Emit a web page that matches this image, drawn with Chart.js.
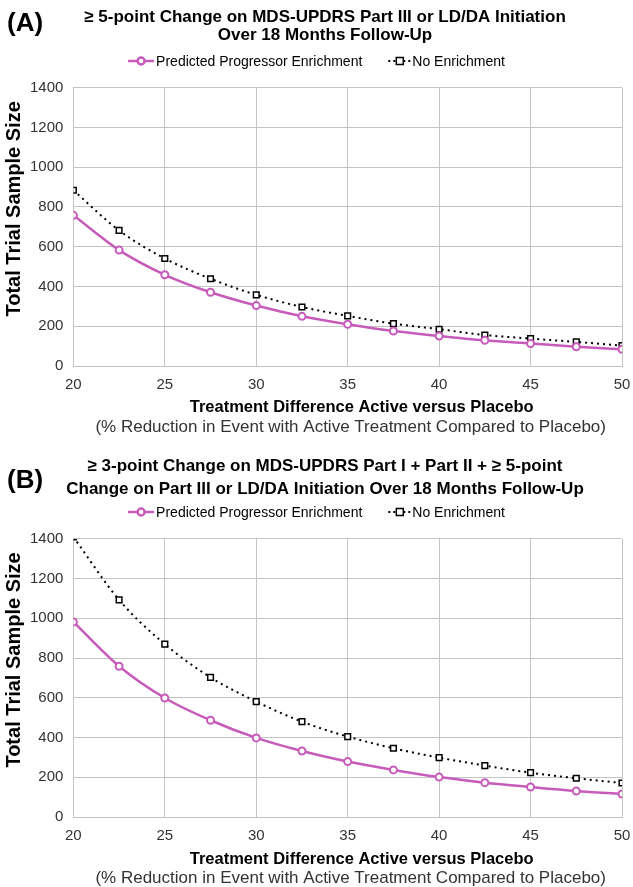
<!DOCTYPE html>
<html>
<head>
<meta charset="utf-8">
<script src="https://cdn.jsdelivr.net/npm/chart.js@4.4.1/dist/chart.umd.min.js"></script>
<style>
  body { margin: 0; background: #fff; }
  .panel { position: relative; width: 633px; }
  canvas { display: block; }
</style>
</head>
<body>
<div class="panel"><canvas id="chartA" width="633" height="440"></canvas></div>
<div class="panel"><canvas id="chartB" width="633" height="447"></canvas></div>

<script>
// ---- data ----
const treatmentDiff = [20, 22.5, 25, 27.5, 30, 32.5, 35, 37.5, 40, 42.5, 45, 47.5, 50];

const seriesNames = ['Predicted Progressor Enrichment', 'No Enrichment'];

// (A) >= 5-point change on Part III or LD/DA initiation
const enrichA = [758, 583, 459, 371, 304, 250, 210, 176, 151, 129, 113, 97, 84];
const noEnrichA = [884, 682, 541, 439, 358, 297, 252, 213, 185, 156, 138, 121, 103];

// (B) >= 3-point Part I + II + >= 5-point Part III or LD/DA initiation
const enrichB = [982, 759, 599, 487, 398, 332, 279, 237, 201, 173, 151, 131, 116];
const noEnrichB = [1410, 1093, 870, 703, 581, 480, 405, 346, 299, 259, 223, 195, 171];

const titleA = ['\u2265 5-point Change on MDS-UPDRS Part III or LD/DA Initiation', 'Over 18 Months Follow-Up'];
const titleB = ['\u2265 3-point Change on MDS-UPDRS Part I + Part II + \u2265 5-point', 'Change on Part III or LD/DA Initiation Over 18 Months Follow-Up'];

const xTitle = 'Treatment Difference Active versus Placebo';
const xSubtitle = '(% Reduction in Event with Active Treatment Compared to Placebo)';
const yTitle = 'Total Trial Sample Size';

const PINK = '#c75bba';
const GRID = '#c4c4c4';
const FONT = '"Liberation Sans", Arial, sans-serif';

// ---- helpers ----
function toPoints(values) {
    return values.map((v, i) => ({ x: treatmentDiff[i], y: v }));
}

// panel letter, legend, axis titles
const extrasPlugin = {
    id: 'extras',
    afterDraw(chart, args, opts) {
        const ctx = chart.ctx;
        const mid = chart.width / 2;
        const area = chart.chartArea;
        ctx.save();

        // panel letter
        ctx.fillStyle = '#000';
        ctx.font = 'bold 26px ' + FONT;
        ctx.textAlign = 'left';
        ctx.textBaseline = 'middle';
        ctx.fillText(opts.letter, 7, opts.letterY);

        // legend
        ctx.font = '14px ' + FONT;
        const wA = ctx.measureText(seriesNames[0]).width;
        const wB = ctx.measureText(seriesNames[1]).width;
        const total = 28 + wA + 26 + 24 + wB;
        let x = mid - total / 2;
        const y = opts.legendY;

        ctx.strokeStyle = PINK;
        ctx.lineWidth = 2.5;
        ctx.beginPath();
        ctx.moveTo(x, y);
        ctx.lineTo(x + 26, y);
        ctx.stroke();
        ctx.fillStyle = '#fff';
        ctx.beginPath();
        ctx.arc(x + 13, y, 3.5, 0, Math.PI * 2);
        ctx.fill();
        ctx.stroke();
        ctx.fillStyle = '#000';
        ctx.fillText(seriesNames[0], x + 28, y + 1);

        x += 28 + wA + 26;
        ctx.strokeStyle = '#000';
        ctx.lineWidth = 2;
        ctx.setLineDash([2, 3]);
        ctx.beginPath();
        ctx.moveTo(x, y);
        ctx.lineTo(x + 22, y);
        ctx.stroke();
        ctx.setLineDash([]);
        ctx.lineWidth = 1.5;
        ctx.fillStyle = '#fff';
        ctx.fillRect(x + 8, y - 3.5, 7, 7);
        ctx.strokeRect(x + 8, y - 3.5, 7, 7);
        ctx.fillStyle = '#000';
        ctx.fillText(seriesNames[1], x + 24, y + 1);

        // x-axis title, two lines
        const cx = (area.left + area.right) / 2;
        ctx.textAlign = 'center';
        ctx.font = 'bold 16.5px ' + FONT;
        ctx.fillStyle = '#000';
        ctx.fillText(xTitle, cx + 14, opts.xTitleY);
        ctx.font = '17px ' + FONT;
        ctx.fillStyle = '#333';
        ctx.fillText(xSubtitle, cx + 3, opts.subY);

        // y-axis title (sits a little above the plot centre)
        const cy = (area.top + area.bottom) / 2 - 18;
        ctx.translate(14, cy);
        ctx.rotate(-Math.PI / 2);
        ctx.font = 'bold 20px ' + FONT;
        ctx.fillStyle = '#000';
        ctx.fillText(yTitle, 0, 0);

        ctx.restore();
    }
};

function buildChart(id, enrich, noEnrich, title, extras) {
    return new Chart(document.getElementById(id), {
        type: 'line',
        data: {
            datasets: [
                {
                    label: seriesNames[0],
                    data: toPoints(enrich),
                    borderColor: PINK,
                    backgroundColor: '#fff',
                    borderWidth: 2.5,
                    pointStyle: 'circle',
                    pointRadius: 3.5,
                    pointBorderWidth: 2,
                    pointBackgroundColor: '#fff',
                    pointBorderColor: PINK,
                    cubicInterpolationMode: 'monotone'
                },
                {
                    label: seriesNames[1],
                    data: toPoints(noEnrich),
                    borderColor: '#000',
                    backgroundColor: '#fff',
                    borderWidth: 2,
                    borderDash: [2, 4],
                    pointStyle: 'rect',
                    pointRadius: 4,
                    pointBorderWidth: 1.5,
                    pointBackgroundColor: '#fff',
                    pointBorderColor: '#000',
                    cubicInterpolationMode: 'monotone'
                }
            ]
        },
        options: {
            responsive: false,
            animation: false,
            devicePixelRatio: 1,
            layout: { padding: { left: 20, right: 3, top: 0, bottom: extras.bottomPad } },
            plugins: {
                legend: { display: false },
                tooltip: { enabled: false },
                title: {
                    display: true,
                    text: title,
                    color: '#000',
                    font: { family: FONT, size: 17, weight: 'bold', lineHeight: extras.titleLH },
                    padding: { top: extras.titleTop, bottom: extras.titleBottom }
                },
                extras: extras
            },
            scales: {
                x: {
                    type: 'linear',
                    min: 20,
                    max: 50,
                    // tick padding would otherwise widen the right margin too
                    afterFit: scale => { scale.paddingRight = 11; },
                    ticks: {
                        stepSize: 5,
                        color: '#333',
                        padding: 10,
                        font: { family: FONT, size: 15 }
                    },
                    grid: { color: GRID, drawTicks: false },
                    border: { color: GRID }
                },
                y: {
                    min: 0,
                    max: 1400,
                    ticks: {
                        stepSize: 200,
                        color: '#333',
                        padding: 10,
                        font: { family: FONT, size: 15 },
                        callback: v => String(v)
                    },
                    grid: { color: GRID, drawTicks: false },
                    border: { color: GRID }
                }
            }
        },
        plugins: [extrasPlugin]
    });
}

buildChart('chartA', enrichA, noEnrichA, titleA, {
    letter: '(A)', letterY: 24, legendY: 61, xTitleY: 407, subY: 427,
    titleTop: 8, titleLH: 1.08, titleBottom: 43, bottomPad: 36
});
buildChart('chartB', enrichB, noEnrichB, titleB, {
    letter: '(B)', letterY: 41, legendY: 72, xTitleY: 419, subY: 438,
    titleTop: 15, titleLH: 1.35, titleBottom: 38, bottomPad: 32
});
</script>
</body>
</html>
